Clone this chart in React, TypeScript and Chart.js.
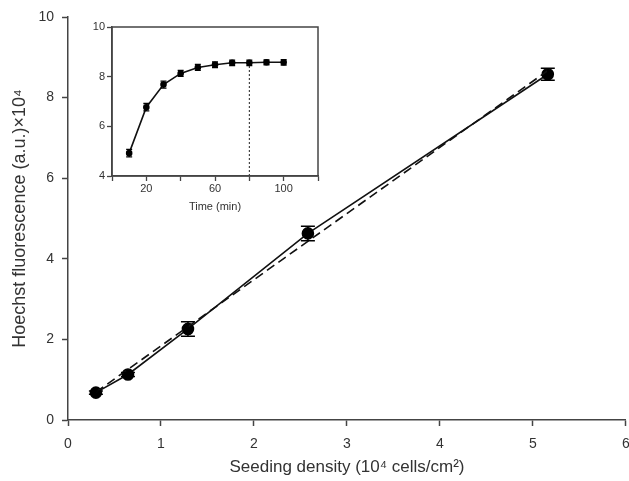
import React, { useEffect, useRef } from "react";
import { Chart, registerables } from "chart.js";
Chart.register(...registerables);

// Main chart data
const densityX = [0.3, 0.645, 1.29, 2.58, 5.16];
const fluorY = [0.68, 1.13, 2.26, 4.63, 8.58];
const fluorErr = [0.04, 0.05, 0.18, 0.18, 0.15];
const fitX = [0.3, 5.16];
const fitY = [0.69, 8.67];
const mainXTicks = [0, 1, 2, 3, 4, 5, 6];
const mainYTicks = [0, 2, 4, 6, 8, 10];

// Inset data
const timeX = [10, 20, 30, 40, 50, 60, 70, 80, 90, 100];
const timeY = [4.92, 6.77, 7.68, 8.13, 8.37, 8.48, 8.56, 8.56, 8.58, 8.58];
const timeErr = [0.15, 0.15, 0.14, 0.12, 0.12, 0.11, 0.11, 0.11, 0.1, 0.11];
const cutoffX = [80, 80];
const cutoffY = [4, 8.56];
const insetXTicks = [0, 20, 40, 60, 80, 100, 120];
const insetXLabels = [20, 60, 100];
const insetYTicks = [4, 6, 8, 10];

const FONT = "'Liberation Sans', Arial, sans-serif";
const TEXT = "#333";
const AXIS = "#444";

const errorBarPlugin = {
  id: "errorBars",
  afterDatasetsDraw(chart: any) {
    const ctx = chart.ctx;
    chart.data.datasets.forEach((ds: any) => {
      if (!ds.errorBars) return;
      const xs = chart.scales.x;
      const ys = chart.scales.y;
      ctx.save();
      ctx.strokeStyle = "#000";
      ctx.lineWidth = ds.errorWidth || 1.5;
      ds.data.forEach((p: any, j: number) => {
        const e = ds.errorBars[j];
        const px = xs.getPixelForValue(p.x);
        const top = ys.getPixelForValue(p.y + e);
        const bot = ys.getPixelForValue(p.y - e);
        const c = ds.capHalf || 6;
        ctx.beginPath();
        ctx.moveTo(px, top);
        ctx.lineTo(px, bot);
        ctx.moveTo(px - c, top);
        ctx.lineTo(px + c, top);
        ctx.moveTo(px - c, bot);
        ctx.lineTo(px + c, bot);
        ctx.stroke();
      });
      ctx.restore();
    });
  },
};

const boxPlugin = {
  id: "boxFrame",
  afterDraw(chart: any) {
    const { ctx, chartArea } = chart;
    ctx.save();
    ctx.strokeStyle = AXIS;
    ctx.lineWidth = 1.5;
    ctx.strokeRect(chartArea.left, chartArea.top, chartArea.right - chartArea.left, chartArea.bottom - chartArea.top);
    ctx.restore();
  },
};

export default function App() {
  const mainRef = useRef<HTMLCanvasElement>(null);
  const insetRef = useRef<HTMLCanvasElement>(null);

  useEffect(() => {
    const main = new Chart(mainRef.current!, {
      type: "scatter",
      data: {
        datasets: [
          {
            data: fitX.map((x, i) => ({ x, y: fitY[i] })),
            showLine: true,
            borderColor: "#111",
            borderWidth: 1.6,
            borderDash: [9, 5],
            pointRadius: 0,
          },
          {
            data: densityX.map((x, i) => ({ x, y: fluorY[i] })),
            showLine: true,
            borderColor: "#111",
            borderWidth: 1.6,
            pointRadius: 5.5,
            pointBackgroundColor: "#000",
            pointBorderColor: "#000",
            errorBars: fluorErr,
            capHalf: 7,
          } as any,
        ],
      },
      options: {
        animation: false,
        responsive: false,
        maintainAspectRatio: false,
        layout: { padding: { top: 17, right: 0, left: 0, bottom: 0 } },
        plugins: { legend: { display: false }, tooltip: { enabled: false } },
        scales: {
          x: {
            type: "linear",
            min: 0,
            max: 6,
            afterBuildTicks: (s: any) => { s.ticks = mainXTicks.map((v) => ({ value: v })); },
            afterFit: (s: any) => { s.height = 61; s.paddingRight = 0; s.paddingLeft = 0; },
            grid: { drawOnChartArea: false, tickLength: 6, tickColor: AXIS, tickWidth: 1.5 },
            border: { color: AXIS, width: 1.5 },
            ticks: { color: TEXT, font: { family: FONT, size: 14 }, padding: 10 },
            title: {
              display: true,
              text: "Seeding density (10⁴ cells/cm²)",
              color: TEXT,
              font: { family: FONT, size: 17 },
              padding: { top: 2, bottom: 3 },
            },
          },
          y: {
            type: "linear",
            min: 0,
            max: 10,
            afterBuildTicks: (s: any) => { s.ticks = mainYTicks.map((v) => ({ value: v })); },
            afterFit: (s: any) => { s.width = 68; s.paddingTop = 0; s.paddingBottom = 0; },
            grid: { drawOnChartArea: false, tickLength: 6, tickColor: AXIS, tickWidth: 1.5 },
            border: { color: AXIS, width: 1.5 },
            ticks: { color: TEXT, font: { family: FONT, size: 14 }, padding: 8 },
            title: {
              display: true,
              text: "Hoechst fluorescence (a.u.)×10⁴",
              color: TEXT,
              font: { family: FONT, size: 18 },
              padding: { top: 9, bottom: 2 },
            },
          },
        },
      },
      plugins: [errorBarPlugin],
    });

    const inset = new Chart(insetRef.current!, {
      type: "scatter",
      data: {
        datasets: [
          {
            data: cutoffX.map((x, i) => ({ x, y: cutoffY[i] })),
            showLine: true,
            borderColor: "#222",
            borderWidth: 1,
            borderDash: [2, 2],
            pointRadius: 0,
          },
          {
            data: timeX.map((x, i) => ({ x, y: timeY[i] })),
            showLine: true,
            borderColor: "#111",
            borderWidth: 1.6,
            pointRadius: 2.5,
            pointBackgroundColor: "#000",
            pointBorderColor: "#000",
            errorBars: timeErr,
            capHalf: 3,
            errorWidth: 1.3,
          } as any,
        ],
      },
      options: {
        animation: false,
        responsive: false,
        maintainAspectRatio: false,
        layout: { padding: { top: 17, right: 12, left: 0, bottom: 0 } },
        plugins: { legend: { display: false }, tooltip: { enabled: false } },
        scales: {
          x: {
            type: "linear",
            min: 0,
            max: 120,
            afterBuildTicks: (s: any) => { s.ticks = insetXTicks.map((v) => ({ value: v })); },
            afterFit: (s: any) => { s.height = 44; },
            grid: { drawOnChartArea: false, tickLength: 5, tickColor: AXIS, tickWidth: 1.3 },
            border: { color: AXIS, width: 1.5 },
            ticks: {
              color: TEXT,
              font: { family: FONT, size: 11 },
              padding: 1,
              callback: (v: any) => (insetXLabels.includes(Number(v)) ? String(v) : ""),
            },
            title: {
              display: true,
              text: "Time (min)",
              color: TEXT,
              font: { family: FONT, size: 11 },
              padding: { top: 2, bottom: 6 },
            },
          },
          y: {
            type: "linear",
            min: 4,
            max: 10,
            afterBuildTicks: (s: any) => { s.ticks = insetYTicks.map((v) => ({ value: v })); },
            afterFit: (s: any) => { s.width = 42; },
            grid: { drawOnChartArea: false, tickLength: 5, tickColor: AXIS, tickWidth: 1.3 },
            border: { color: AXIS, width: 1.5 },
            ticks: { color: TEXT, font: { family: FONT, size: 11 }, padding: 2 },
          },
        },
      },
      plugins: [errorBarPlugin, boxPlugin],
    });

    return () => {
      main.destroy();
      inset.destroy();
    };
  }, []);

  return (
    <div style={{ position: "absolute", left: 0, top: 0, width: 629, height: 481, background: "#fff", overflow: "hidden" }}>
      <canvas ref={mainRef} width={633} height={481} style={{ position: "absolute", left: 0, top: 0 }} />
      <canvas ref={insetRef} width={260} height={210} style={{ position: "absolute", left: 70, top: 10 }} />
    </div>
  );
}
